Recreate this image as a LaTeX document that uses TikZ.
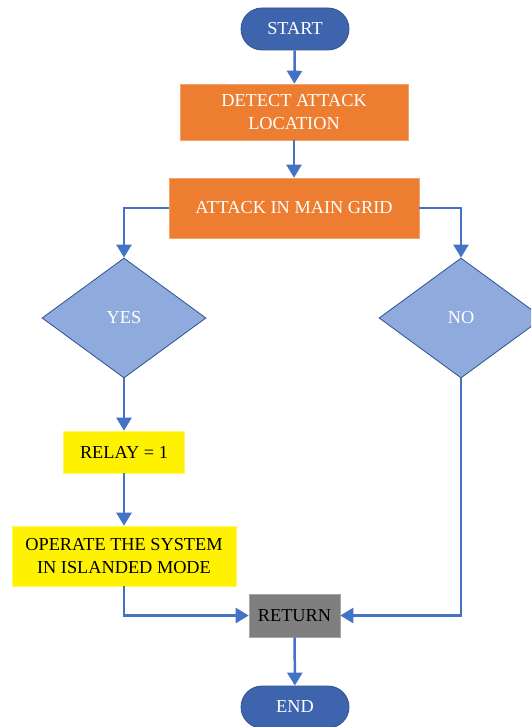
\documentclass[tikz,border=0pt]{standalone}
\usepackage{fontspec}
\setmainfont{Liberation Serif}
\usetikzlibrary{shapes.geometric,arrows.meta}
\definecolor{termblue}{HTML}{3E64AE}
\definecolor{darkline}{HTML}{2F528F}
\definecolor{diafill}{HTML}{8FAADC}
\definecolor{orng}{HTML}{ED7D31}
\definecolor{arrblue}{HTML}{4472C4}
\definecolor{grayfill}{HTML}{7F7F7F}
\tikzset{
  fnt/.style={font=\fontsize{18.3}{23.5}\selectfont},
  term/.style={draw=darkline, line width=0.8pt, fill=termblue, rounded corners=21pt,
    minimum width=108pt, minimum height=42pt, inner sep=0pt, text=white, fnt},
  obox/.style={draw=orng!70!white, line width=0.6pt, fill=orng, inner sep=0pt, text=white,
    fnt, align=center},
  ybox/.style={draw=yellow!60!white, line width=0.6pt, fill=yellow, inner sep=0pt, text=black,
    fnt, align=center},
  gbox/.style={draw=gray!70, line width=0.6pt, fill=grayfill, inner sep=0pt, text=black, fnt},
  dia/.style={diamond, draw=darkline, line width=0.8pt, fill=diafill, inner sep=0pt,
    minimum width=164pt, minimum height=120pt, text=white, fnt},
  conn/.style={draw=arrblue, line width=2.5pt},
  arr/.style={conn, -{Triangle[width=15pt,length=13pt]}},
}
\begin{document}
\begin{tikzpicture}[x=1pt,y=-1pt]
\useasboundingbox (0,0) rectangle (531,727);
\clip (0,0) rectangle (531,727);
\node[term] (start) at (295,29) {START};
\node[obox, minimum width=228pt, minimum height=56pt] (detect) at (294,112) {DETECT ATTACK\\LOCATION};
\node[obox, minimum width=250pt, minimum height=60pt] (attack) at (294,208) {ATTACK IN MAIN GRID};
\node[dia] (yes) at (124,318) {YES};
\node[dia] (no) at (461,318) {NO};
\node[ybox, minimum width=121pt, minimum height=42pt] (relay) at (124,452) {RELAY = 1};
\node[ybox, minimum width=224pt, minimum height=60pt] (oper) at (124,556) {OPERATE THE SYSTEM\\IN ISLANDED MODE};
\node[gbox, minimum width=91pt, minimum height=43pt] (ret) at (294.5,615.5) {RETURN};
\node[term] (end) at (295,707) {END};
\coordinate (jl) at (yes.north |- attack.west);
\coordinate (jr) at (no.north |- attack.east);
\coordinate (jo) at (oper.south |- ret.west);
\coordinate (jn) at (no.south |- ret.east);
\draw[arr] (start) -- (detect);
\draw[arr] (detect) -- (attack);
\draw[arr] (attack.west) -- (jl) -- (yes.north);
\draw[arr] (attack.east) -- (jr) -- (no.north);
\draw[arr] (yes.south) -- (relay.north);
\draw[arr] (relay.south) -- (oper.north);
\draw[arr] (oper.south) -- (jo) -- (ret.west);
\draw[arr] (no.south) -- (jn) -- (ret.east);
\draw[arr] (ret) -- (end);
\end{tikzpicture}
\end{document}
